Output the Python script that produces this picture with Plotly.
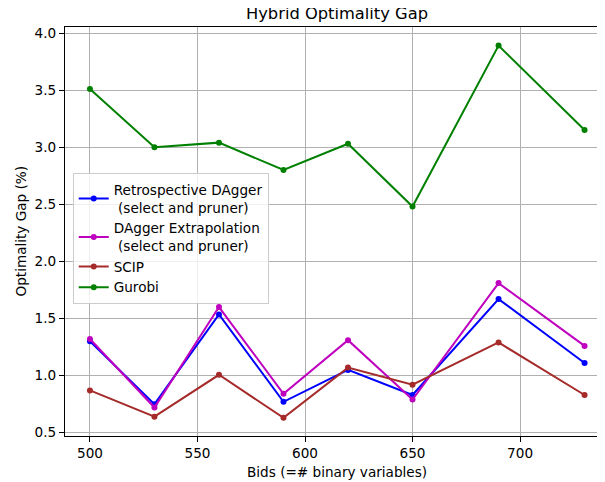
import plotly.graph_objects as go

bids = [500, 530, 560, 590, 620, 650, 690, 730]
retro_dagger = [1.30, 0.75, 1.535, 0.77, 1.05, 0.83, 1.67, 1.11]
dagger_extrap = [1.32, 0.72, 1.60, 0.84, 1.31, 0.79, 1.81, 1.26]
scip = [0.87, 0.64, 1.007, 0.63, 1.07, 0.92, 1.29, 0.83]
gurobi = [3.51, 3.00, 3.04, 2.80, 3.03, 2.48, 3.89, 3.15]

series = [
    ("Retrospective DAgger<br> (select and pruner)", retro_dagger, "#0000ff"),
    ("DAgger Extrapolation<br> (select and pruner)", dagger_extrap, "#bf00bf"),
    ("SCIP", scip, "#a52a2a"),
    ("Gurobi", gurobi, "#008000"),
]

FONT = "DejaVu Sans"
FS = 13.6
fig = go.Figure()
for name, vals, col in series:
    fig.add_trace(go.Scatter(
        x=bids, y=vals, name=name, mode="lines+markers",
        line=dict(color=col, width=2),
        marker=dict(color=col, size=6),
    ))

# the page body has an 8px margin, so the layout is shifted up/left by 8px
fig.update_layout(
    width=605, height=482,
    margin=dict(l=57, r=8, t=19, b=54),
    paper_bgcolor="white", plot_bgcolor="white",
    font=dict(family=FONT, size=FS, color="black"),
    title=dict(text="Hybrid Optimality Gap", font=dict(size=16.3, color="black"),
               xref="container", yref="container", x=0.5438, y=1.0,
               xanchor="center", yanchor="top", pad=dict(t=0, b=0)),
    legend=dict(x=0.0143, y=0.642, xanchor="left", yanchor="top",
                bgcolor="rgba(255,255,255,0.8)", bordercolor="#cccccc", borderwidth=1,
                font=dict(size=FS, color="black"), tracegroupgap=0),
    showlegend=True,
    annotations=[
        dict(text="Bids (=# binary variables)", xref="paper", yref="paper",
             x=0.5037, y=-0.0873, xanchor="center", yanchor="middle",
             showarrow=False, font=dict(size=FS, color="black")),
        dict(text="Optimality Gap (%)", xref="paper", yref="paper",
             x=-0.0833, y=0.5, xanchor="center", yanchor="middle", textangle=-90,
             showarrow=False, font=dict(size=FS, color="black")),
    ],
)
fig.update_xaxes(
    range=[488.4, 739.5], tickvals=[500, 550, 600, 650, 700],
    showgrid=True, gridcolor="#b0b0b0", gridwidth=1.1,
    showline=True, linecolor="black", linewidth=1.1, mirror=True,
    ticks="outside", ticklen=5, tickcolor="black", zeroline=False,
    automargin=False,
)
fig.update_yaxes(
    range=[0.471, 4.0525], tickvals=[0.5, 1.0, 1.5, 2.0, 2.5, 3.0, 3.5, 4.0],
    ticktext=["0.5", "1.0", "1.5", "2.0", "2.5", "3.0", "3.5", "4.0"],
    showgrid=True, gridcolor="#b0b0b0", gridwidth=1.1,
    showline=True, linecolor="black", linewidth=1.1,
    ticks="outside", ticklen=5, tickcolor="black", zeroline=False,
    automargin=False,
)
fig.write_html("out.html")
